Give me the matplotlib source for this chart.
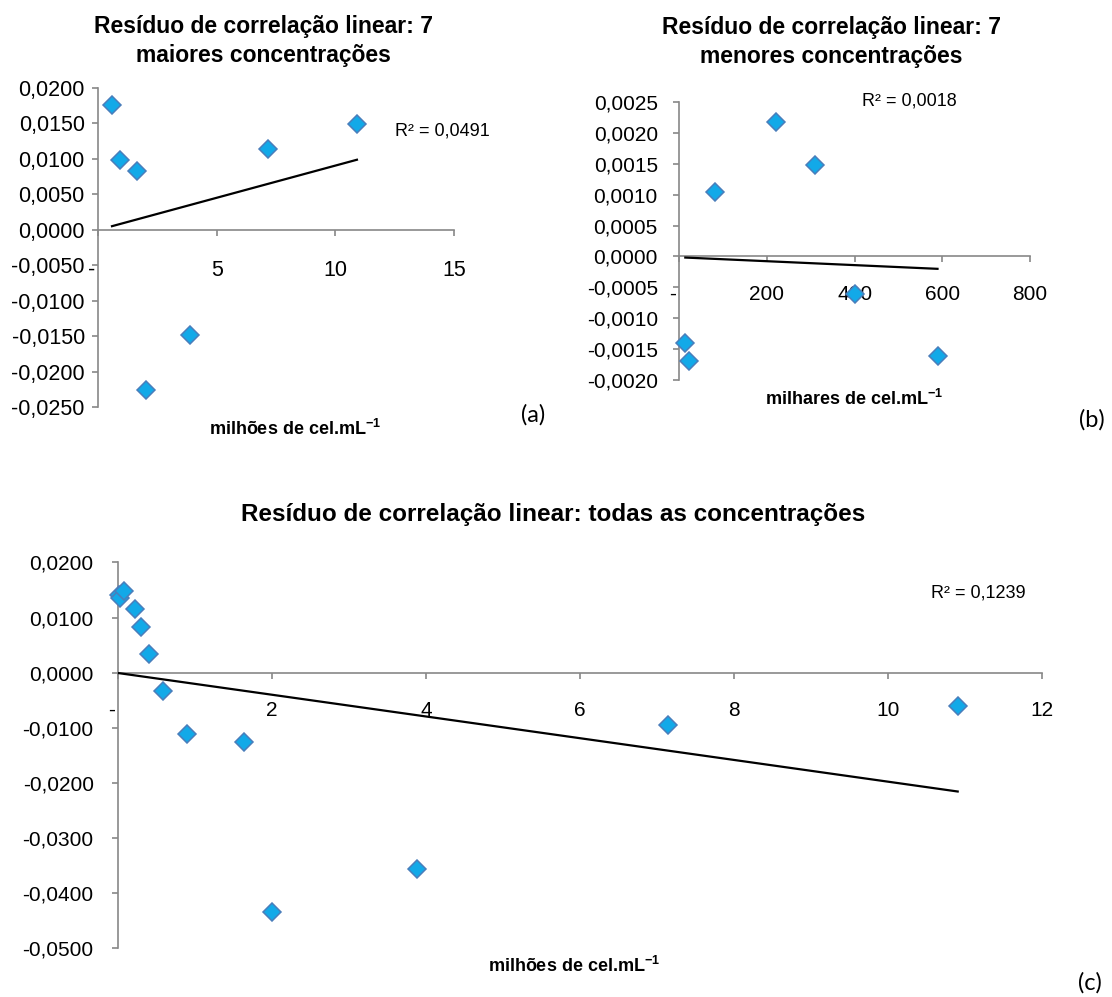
import numpy as np
import matplotlib
matplotlib.use("Agg")
import matplotlib.pyplot as plt

plt.rcParams['font.family'] = ['Liberation Sans', 'DejaVu Sans']
plt.rcParams['mathtext.fontset'] = 'custom'
plt.rcParams['mathtext.rm'] = 'Liberation Sans'
plt.rcParams['mathtext.bf'] = 'Liberation Sans:bold'

# ---------------- data ----------------
# (a) 7 maiores concentrações (milhões de cel/mL)
xa = [0.59, 0.94, 1.64, 2.01, 3.89, 7.16, 10.91]
ya = [0.01754, 0.00978, 0.00823, -0.02267, -0.01482, 0.01143, 0.01496]
r2_a = "R² = 0,0491"

# (b) 7 menores concentrações (milhares de cel/mL)
xb = [13.7, 22.8, 82.0, 220.5, 308.7, 401.5, 589.0]
yb = [-0.00139, -0.00169, 0.00104, 0.00217, 0.00148, -0.00061, -0.00161]
r2_b = "R² = 0,0018"

# (c) todas as concentrações (milhões de cel/mL)
xc = [0.0137, 0.0228, 0.082, 0.217, 0.295, 0.400, 0.586, 0.898, 1.636,
      1.995, 3.88, 7.14, 10.905]
yc = [0.0141, 0.0136, 0.0148, 0.0115, 0.0082, 0.0033, -0.0034, -0.0111,
      -0.0127, -0.0436, -0.0357, -0.0095, -0.0060]
r2_c = "R² = 0,1239"

title_a = ["Resíduo de correlação linear: 7", "maiores concentrações"]
title_b = ["Resíduo de correlação linear: 7", "menores concentrações"]
title_c = "Resíduo de correlação linear: todas as concentrações"
xlabel_mi = r"milhões de cel.mL$^{\mathbf{-1}}$"
xlabel_ma = r"milhares de cel.mL$^{\mathbf{-1}}$"

xticks_a = [0, 5, 10, 15]
yticks_a = [-0.025, -0.02, -0.015, -0.01, -0.005, 0.0, 0.005, 0.01, 0.015, 0.02]
xticks_b = [0, 200, 400, 600, 800]
yticks_b = [-0.002, -0.0015, -0.001, -0.0005, 0.0, 0.0005, 0.001, 0.0015, 0.002, 0.0025]
xticks_c = [0, 2, 4, 6, 8, 10, 12]
yticks_c = [-0.05, -0.04, -0.03, -0.02, -0.01, 0.0, 0.01, 0.02]

# ---------------- style ----------------
W, H = 1112, 997
SPINE = '#888888'
FACE = '#12A9E8'
EDGE = '#4A7EBB'

fig = plt.figure(figsize=(W / 100, H / 100), dpi=100)


def box(x0, y0, x1, y1):
    return [x0 / W, 1 - y1 / H, (x1 - x0) / W, (y1 - y0) / H]


def yfmt(v):
    if abs(v) < 1e-12:
        return "0,0000"
    return f"{v:.4f}".replace('.', ',')


def setup(ax, xt, yt, xlim, ylim, fs, ypad, xpad):
    ax.set_xlim(*xlim)
    ax.set_ylim(*ylim)
    for s in ['top', 'right']:
        ax.spines[s].set_visible(False)
    ax.spines['bottom'].set_position(('data', 0))
    for s in ['left', 'bottom']:
        ax.spines[s].set_color(SPINE)
        ax.spines[s].set_linewidth(1.2)
    ax.set_xticks(xt)
    ax.set_xticklabels(["-  "] + [str(t) for t in xt[1:]])
    ax.set_yticks(yt)
    ax.set_yticklabels([yfmt(v) for v in yt])
    ax.tick_params(axis='both', colors=SPINE, labelcolor='black',
                   width=1.2, length=4.5, direction='out', labelsize=fs)
    ax.tick_params(axis='y', pad=ypad)
    ax.tick_params(axis='x', pad=xpad)
    ax.patch.set_alpha(0)


def draw(ax, x, y):
    x = np.asarray(x)
    y = np.asarray(y)
    m, b = np.polyfit(x, y, 1)
    xs = np.array([x.min(), x.max()])
    ax.plot(xs, m * xs + b, color='black', lw=1.6, zorder=3, clip_on=False)
    ax.plot(x, y, linestyle='none', marker='D', ms=9, mfc=FACE, mec=EDGE,
            mew=1.1, zorder=5, clip_on=False)


# (a)
ax_a = fig.add_axes(box(98, 88, 454, 407))
setup(ax_a, xticks_a, yticks_a, (0, 15), (-0.025, 0.02), 15.5, 5, 17)
draw(ax_a, xa, ya)

# (b)
ax_b = fig.add_axes(box(679.3, 101.7, 1030, 380.3))
setup(ax_b, xticks_b, yticks_b, (0, 800), (-0.002, 0.0025), 15, 11, 16)
draw(ax_b, xb, yb)

# (c)
ax_c = fig.add_axes(box(118, 562.5, 1042, 947.7))
setup(ax_c, xticks_c, yticks_c, (0, 12), (-0.05, 0.02), 15, 13, 16)
draw(ax_c, xc, yc)


def ftext(x, y, s, **kw):
    fig.text(x / W, 1 - y / H, s, **kw)


TFS = 16.5
ftext(263, 33, title_a[0], ha='center', va='baseline', fontsize=TFS, fontweight='bold')
ftext(263, 62, title_a[1], ha='center', va='baseline', fontsize=TFS, fontweight='bold')
ftext(831.5, 34, title_b[0], ha='center', va='baseline', fontsize=TFS, fontweight='bold')
ftext(831.5, 63, title_b[1], ha='center', va='baseline', fontsize=TFS, fontweight='bold')
ftext(553, 521, title_c, ha='center', va='baseline', fontsize=17.5, fontweight='bold')

RFS = 13
ftext(395, 135, r2_a, ha='left', va='baseline', fontsize=RFS)
ftext(862, 105, r2_b, ha='left', va='baseline', fontsize=RFS)
ftext(931, 597, r2_c, ha='left', va='baseline', fontsize=RFS)

LFS = 13
ftext(295.5, 435, xlabel_mi, ha='center', va='baseline', fontsize=LFS, fontweight='bold')
ftext(854, 404.5, xlabel_ma, ha='center', va='baseline', fontsize=LFS, fontweight='bold')
ftext(574, 971.5, xlabel_mi, ha='center', va='baseline', fontsize=LFS, fontweight='bold')

PFS = 17
ftext(533, 415, "(a)", ha='center', va='center', fontsize=PFS, family=['Lato', 'DejaVu Sans'])
ftext(1092, 420, "(b)", ha='center', va='center', fontsize=PFS, family=['Lato', 'DejaVu Sans'])
ftext(1090, 983, "(c)", ha='center', va='center', fontsize=PFS, family=['Lato', 'DejaVu Sans'])

fig.savefig("out.png", dpi=100, facecolor='white')
